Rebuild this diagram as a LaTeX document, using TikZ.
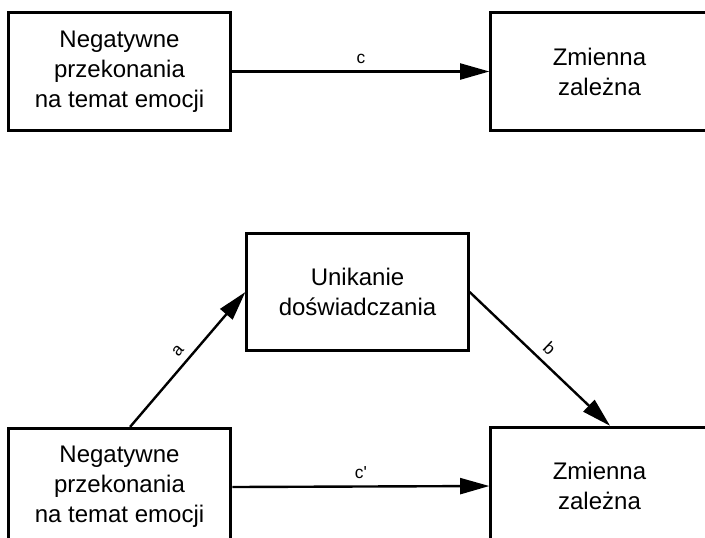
\documentclass[tikz,border=0pt]{standalone}
\usepackage{fontspec}
\setmainfont{Liberation Sans}
\usetikzlibrary{arrows.meta}
\tikzset{varbox/.style={draw, line width=2.2pt, rectangle, minimum width=167pt, minimum height=88pt, align=center, font=\fontsize{18}{22.5}\selectfont}}
\tikzset{path label/.style={font=\fontsize{13}{15}\selectfont, inner sep=5pt}}

\begin{document}
\begin{tikzpicture}[x=0.75pt, y=-0.75pt]
	% Default action for each arrow
	\tikzstyle{every path}=[line width=1.8pt];
	\tikzset{>={Triangle[length=22pt, width=12pt]}};

	\useasboundingbox (0,0) rectangle (705,537);

	% Top model
	\node[varbox] (negtop) at (119.5,71.5) {Negatywne\\przekonania\\na temat emocji};
	\node[varbox, minimum width=163pt] (zaltop) at (599.5,71.5) {Zmienna\\zależna};

	% Bottom model
	\node[varbox, minimum width=166pt] (unik) at (357.5,292) {Unikanie\\doświadczania};
	\node[varbox] (negbot) at (119.5,487) {Negatywne\\przekonania\\na temat emocji};
	\node[varbox, minimum width=163pt] (zalbot) at (599.5,486) {Zmienna\\zależna};

	% Total effect
	\draw[->] (negtop) -- node[path label, above] {c} (zaltop);

	% Indirect path
	\draw[->] (negbot.80) -- node[path label, above, sloped] {a} (unik.west);
	\draw[->] (unik.east) -- node[path label, above, sloped] {b} (zalbot.80);

	% Direct effect
	\draw[->] (negbot.east) -- node[path label, above] {c\textquotesingle} (zalbot.west);
\end{tikzpicture}
\end{document}
